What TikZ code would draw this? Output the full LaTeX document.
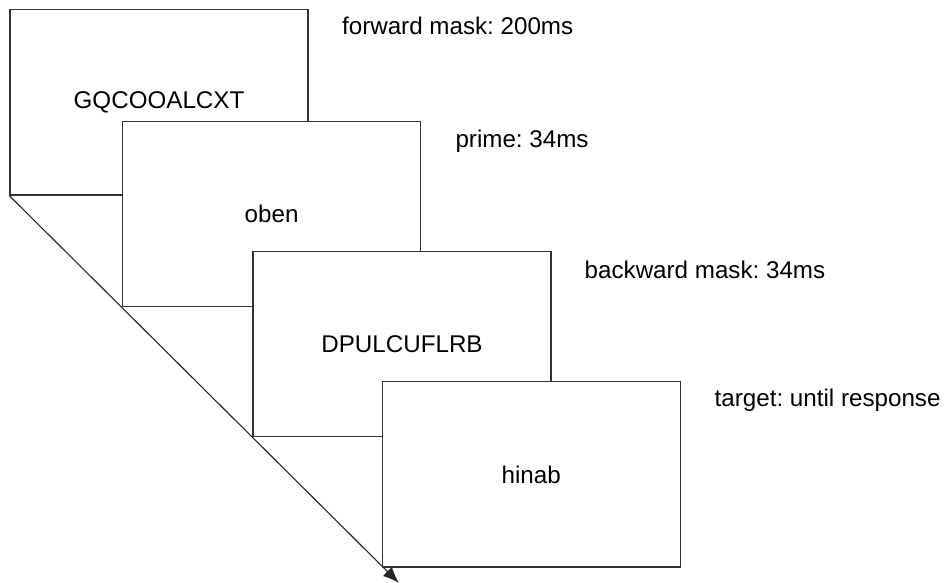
\documentclass[tikz,border=0pt]{standalone}
\usepackage{fontspec}
\setmainfont{Liberation Sans}
\usetikzlibrary{arrows.meta, calc}

\begin{document}
\frenchspacing
\begin{tikzpicture}[>={Latex[length=4mm, width=3.2mm]}, every node/.style={font=\fontsize{17.2}{20}\selectfont}]
  \tikzset{screen/.style={draw=black!80, line width=0.9pt, fill=white, minimum width=7.45cm, minimum height=4.63cm, inner sep=0pt},
    timing/.style={anchor=base west, inner sep=0pt}}
  \useasboundingbox (0,0) rectangle (23.6,-14.575);
  \coordinate (timeend) at (9.97,-14.57);
  \node[screen] (fwdmask) at (3.975,-2.56) {GQCOOALCXT};
  \draw[->, black!85, line width=0.8pt] (fwdmask.south west) -- (timeend);
  \node[screen] (prime) at (6.79,-5.35) {oben};
  \node[screen] (bwdmask) at (10.05,-8.6) {DPULCUFLRB};
  \node[screen] (target) at (13.28,-11.86) {hinab};
  \node[timing] (fwdlabel) at ($(fwdmask.north east)+(0.83,-0.625)$) {forward mask: 200ms};
  \node[timing] (primelabel) at ($(prime.north east)+(0.85,-0.675)$) {prime: 34ms};
  \node[timing] (bwdlabel) at ($(bwdmask.north east)+(0.82,-0.7)$) {backward mask: 34ms};
  \node[timing] (targetlabel) at ($(target.north east)+(0.84,-0.625)$) {target: until response};
\end{tikzpicture}
\end{document}
